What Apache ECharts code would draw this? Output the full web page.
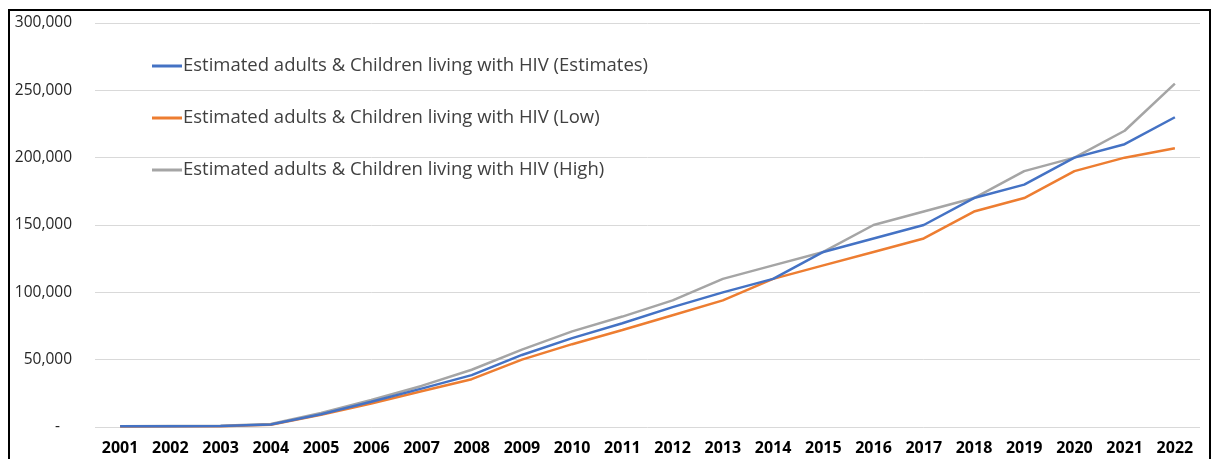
<!DOCTYPE html>
<html>
<head>
<meta charset="utf-8">
<script src="https://cdn.jsdelivr.net/npm/echarts@6/dist/echarts.min.js"></script>
<style>
html,body{margin:0;padding:0;background:#fff;}
#c{width:1213px;height:459px;}
</style>
</head>
<body>
<div id="c"></div>
<script>
const years = ['2001','2002','2003','2004','2005','2006','2007','2008','2009','2010','2011','2012','2013','2014','2015','2016','2017','2018','2019','2020','2021','2022'];
const estimates = [500,600,800,1800,9500,18700,28500,38500,53500,66000,77000,89000,100000,110000,130000,140000,150000,170000,180000,200000,210000,230000];
const low = [400,500,600,1600,9000,17400,26500,35500,50000,61500,72000,83000,94000,110000,120000,130000,140000,160000,170000,190000,200000,207000];
const high = [600,800,1000,2200,10500,20000,30500,42500,57500,71000,82000,94000,110000,120000,130000,150000,160000,170000,190000,200000,220000,255000];
const seriesNames = ['Estimated adults & Children living with HIV (Estimates)','Estimated adults & Children living with HIV (Low)','Estimated adults & Children living with HIV (High)'];
const yTicks = [0,50000,100000,150000,200000,250000,300000];
const colors = ['#4472C4','#ED7D31','#A5A5A5'];

const chart = echarts.init(document.getElementById('c'));
const fmt = v => v === 0 ? '-   ' : v.toLocaleString('en-US');
chart.setOption({
  animation: false,
  backgroundColor: '#fff',
  grid: {left: 95, right: 13, top: 23, bottom: 32, containLabel: false},
  legend: {
    orient: 'vertical', left: 152, top: 54, padding: 0, itemGap: 28, itemWidth: 30, itemHeight: 3,
    icon: 'rect',
    textStyle: {fontFamily: 'Open Sans', fontSize: 18.5, color: '#404040', lineHeight: 24, padding: [0,0,0,-4]},
    data: seriesNames
  },
  xAxis: {
    type: 'category', data: years, boundaryGap: true,
    axisLine: {show: false}, axisTick: {show: false},
    axisLabel: {margin: 13, fontFamily: 'Open Sans', fontWeight: 'bold', fontSize: 16, color: '#000'}
  },
  yAxis: {
    type: 'value', min: yTicks[0], max: yTicks[yTicks.length-1], interval: 50000,
    axisLine: {show: false}, axisTick: {show: false},
    splitLine: {lineStyle: {color: '#d9d9d9', width: 1}},
    axisLabel: {margin: 23, fontFamily: 'Open Sans', fontSize: 15.5, color: '#262626', formatter: fmt}
  },
  series: [estimates, low, high].map((d, i) => ({
    name: seriesNames[i], type: 'line', data: d, symbol: 'none', showSymbol: false,
    color: colors[i], lineStyle: {color: colors[i], width: 2.5}, z: 3 - i
  })),
  graphic: [{
    type: 'rect', shape: {x: 9, y: 10, width: 1201, height: 460},
    style: {fill: 'none', stroke: '#000', lineWidth: 2}, silent: true
  }]
});
</script>
</body>
</html>
